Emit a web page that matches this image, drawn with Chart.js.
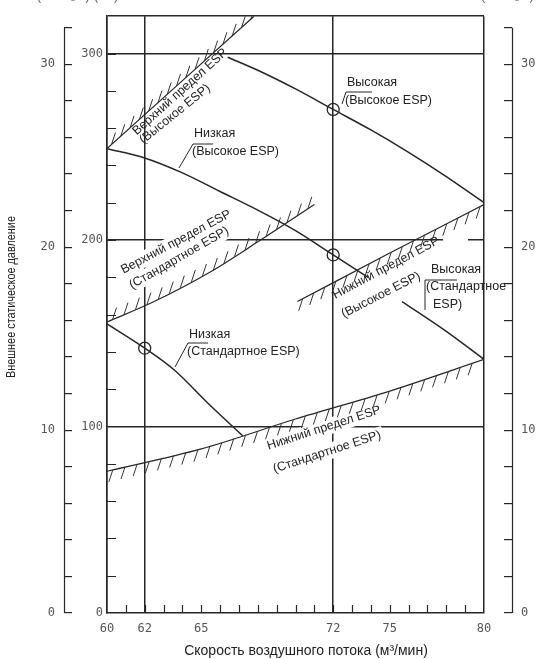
<!DOCTYPE html>
<html>
<head>
<meta charset="utf-8">
<script src="https://cdn.jsdelivr.net/npm/chart.js@4.4.0/dist/chart.umd.min.js"></script>
<style>
  html, body { margin: 0; padding: 0; background: #fff; }
</style>
</head>
<body>
<canvas id="chart" width="539" height="659"></canvas>
<script>
// airflow (m3/min) vs external static pressure (Pa)
const highHighX = [66.4, 68, 70, 72, 74, 76, 78, 80];
const highHighY = [298, 291, 281, 270, 259, 247, 234, 220];

const lowHighX = [60, 62, 64, 66, 68, 70, 72, 73.85];
const lowHighY = [249, 244, 236, 226, 216, 205, 192, 180];

const lowStdX = [60, 62, 63.6, 65.3, 67.2];
const lowStdY = [155, 142, 130, 113, 95];

const highStdX = [75.65, 78, 80];
const highStdY = [167, 151, 136];

// ESP limit lines
const upperHighX = [60, 67.8];
const upperHighY = [249, 320];
const upperStdX = [60, 62.5, 65.5, 68, 71];
const upperStdY = [156, 167, 183, 199, 219];
const lowerHighX = [70.1, 75, 80];
const lowerHighY = [167, 193, 219];
const lowerStdX = [60, 65, 70, 75, 80];
const lowerStdY = [76, 88, 104, 119, 136];

// rated points
const markX = [62, 72, 72];
const markY = [142, 270, 192];

// axes
const xLabels = [60, 62, 65, 72, 75, 80];
const xGridLines = [60, 62, 72, 80];
const paLabels = [0, 100, 200, 300];
const paGridLines = [100, 200, 300, 320];
const mmLabels = [0, 10, 20, 30];
const PA_PER_MM = 9.80665;

const LINE = '#262626';
const TEXT = '#222';
const TICK_TEXT = '#555';
const LABEL_FONT = '12.5px "Liberation Sans", Arial, sans-serif';

const pts = (xs, ys) => xs.map((x, i) => ({ x: x, y: ys[i] }));

const curve = (data, extra) => Object.assign({
  data: data,
  showLine: true,
  borderColor: LINE,
  borderWidth: 1.5,
  pointRadius: 0,
  cubicInterpolationMode: 'monotone',
  fill: false
}, extra || {});

// text placed on the chart (pixels)
const rotLabels = [
  { text: 'Верхний предел ESP', x: 180, y: 92, angle: -42 },
  { text: '(Высокое ESP)', x: 175, y: 114, angle: -39 },
  { text: 'Верхний предел ESP', x: 176, y: 242, angle: -28, bg: true },
  { text: '(Стандартное ESP)', x: 179, y: 258, angle: -30, bg: true },
  { text: 'Нижний предел ESP', x: 386, y: 268, angle: -28 },
  { text: '(Высокое ESP)', x: 381, y: 295, angle: -27 },
  { text: 'Нижний предел ESP', x: 324, y: 428, angle: -18, bg: true },
  { text: '(Стандартное ESP)', x: 327, y: 452, angle: -18, bg: true }
];
const flatLabels = [
  { text: 'Высокая', x: 347, y: 83 },
  { text: '(Высокое ESP)', x: 345, y: 101 },
  { text: 'Низкая', x: 194, y: 134 },
  { text: '(Высокое ESP)', x: 192, y: 152 },
  { text: 'Низкая', x: 189, y: 335 },
  { text: '(Стандартное ESP)', x: 187, y: 352 },
  { text: 'Высокая', x: 431, y: 270 },
  { text: '(Стандартное', x: 426, y: 287 },
  { text: 'ESP)', x: 433, y: 305 }
];
const leaders = [
  [[346, 92], [372, 92]], [[346, 92], [342, 104]],
  [[193, 144], [213, 144]], [[193, 144], [179, 168]],
  [[188, 343], [208, 343]], [[188, 343], [175, 367]],
  [[425, 280], [457, 280]], [[425, 280], [425, 310]]
];
// unit captions, cut off by the top edge in the original
const unitTexts = [
  { text: '(мм H₂O)', x: 37 },
  { text: '(Па)', x: 94 },
  { text: '(мм H₂O)', x: 481 }
];
// small white gap in the 200 Pa line, right side
const gridGaps = [[443, 230, 25, 12]];

// white boxes behind some labels (cuts the grid lines like the original)
const labelBoxes = {
  id: 'labelBoxes',
  beforeDatasetsDraw(chart) {
    const ctx = chart.ctx;
    ctx.save();
    ctx.font = LABEL_FONT;
    ctx.fillStyle = '#fff';
    rotLabels.filter(l => l.bg).forEach(l => {
      const w = ctx.measureText(l.text).width;
      ctx.save();
      ctx.translate(l.x, l.y);
      ctx.rotate(l.angle * Math.PI / 180);
      ctx.fillRect(-w / 2 - 3, -8, w + 6, 16);
      ctx.restore();
    });
    gridGaps.forEach(g => ctx.fillRect(g[0], g[1], g[2], g[3]));
    ctx.restore();
  }
};

// hatch marks on the ESP limit lines
const hatch = {
  id: 'hatch',
  afterDatasetsDraw(chart) {
    const ctx = chart.ctx;
    const area = chart.chartArea;
    ctx.save();
    ctx.beginPath();
    ctx.rect(area.left, area.top, area.right - area.left, area.bottom - area.top);
    ctx.clip();
    ctx.strokeStyle = '#333';
    ctx.lineWidth = 1;
    chart.data.datasets.forEach((ds, i) => {
      if (!ds.hatch) return;
      const p = chart.getDatasetMeta(i).data.map(e => [e.x, e.y]);
      const dir = ds.hatch === 'up' ? -1 : 1;
      const step = 12.5;
      let carry = 6;
      ctx.beginPath();
      for (let k = 0; k < p.length - 1; k++) {
        const [x0, y0] = p[k];
        const [x1, y1] = p[k + 1];
        const len = Math.hypot(x1 - x0, y1 - y0);
        let d = carry;
        while (d <= len) {
          const t = d / len;
          const hx = x0 + (x1 - x0) * t;
          const hy = y0 + (y1 - y0) * t;
          ctx.moveTo(hx, hy);
          ctx.lineTo(hx - dir * 4, hy + dir * 12);
          d += step;
        }
        carry = d - len;
      }
      ctx.stroke();
    });
    ctx.restore();
  }
};

// inward ticks, outer mmH2O brackets, titles and labels
const decor = {
  id: 'decor',
  afterDraw(chart) {
    const ctx = chart.ctx;
    const area = chart.chartArea;
    const sx = chart.scales.x;
    const sy = chart.scales.y;
    ctx.save();
    ctx.strokeStyle = LINE;
    ctx.lineWidth = 1.2;
    ctx.beginPath();
    sy.ticks.forEach(t => {
      if (t.value <= 0 || t.value >= 320) return;
      const y = Math.round(sy.getPixelForValue(t.value)) + 0.5;
      ctx.moveTo(area.left, y);
      ctx.lineTo(area.left + 9, y);
    });
    sx.ticks.forEach(t => {
      if (t.value <= 60 || t.value >= 80) return;
      const x = Math.round(sx.getPixelForValue(t.value)) + 0.5;
      ctx.moveTo(x, area.bottom);
      ctx.lineTo(x, area.bottom - 8);
    });
    // brackets of the mmH2O axes
    const mL = chart.scales.mmL;
    const mR = chart.scales.mmR;
    const xl = Math.round(mL.right - 8) + 0.5;
    const xr = Math.round(mR.left + 8) + 0.5;
    ctx.moveTo(xl, mL.getPixelForValue(0));
    ctx.lineTo(xl, mL.getPixelForValue(32));
    ctx.moveTo(xr, mR.getPixelForValue(0));
    ctx.lineTo(xr, mR.getPixelForValue(32));
    ctx.stroke();

    // leader lines
    ctx.lineWidth = 1;
    ctx.beginPath();
    leaders.forEach(l => {
      ctx.moveTo(l[0][0], l[0][1]);
      ctx.lineTo(l[1][0], l[1][1]);
    });
    ctx.stroke();

    ctx.fillStyle = TEXT;
    ctx.font = LABEL_FONT;
    ctx.textAlign = 'center';
    ctx.textBaseline = 'middle';
    rotLabels.forEach(l => {
      ctx.save();
      ctx.translate(l.x, l.y);
      ctx.rotate(l.angle * Math.PI / 180);
      ctx.fillText(l.text, 0, 0);
      ctx.restore();
    });
    ctx.textAlign = 'left';
    flatLabels.forEach(l => ctx.fillText(l.text, l.x, l.y));

    // units (only their lower edge shows)
    ctx.fillStyle = '#666';
    ctx.textBaseline = 'alphabetic';
    unitTexts.forEach(u => ctx.fillText(u.text, u.x, 0));

    // axis titles
    ctx.fillStyle = TEXT;
    ctx.textBaseline = 'middle';
    ctx.font = '14px "Liberation Sans", Arial, sans-serif';
    ctx.textAlign = 'center';
    ctx.fillText('Скорость воздушного потока (м³/мин)', 306, 651);
    ctx.save();
    ctx.translate(12, 297);
    ctx.rotate(-Math.PI / 2);
    ctx.scale(0.87, 1);
    ctx.font = '12.5px "Liberation Sans", Arial, sans-serif';
    ctx.fillText('Внешнее статическое давление', 0, 0);
    ctx.restore();
    ctx.restore();
  }
};

const tickFont = { family: '"DejaVu Sans Mono", monospace', size: 12 };

const mmScale = (position, extra) => Object.assign({
  type: 'linear',
  position: position,
  weight: 2,
  min: 0,
  max: 320 / PA_PER_MM,
  afterBuildTicks: s => {
    s.ticks = Array.from({ length: 17 }, (_, i) => ({ value: i * 2 }));
  },
  ticks: {
    padding: 9,
    color: TICK_TEXT,
    font: tickFont,
    callback: v => mmLabels.includes(v) ? String(v) : ''
  },
  grid: {
    drawOnChartArea: false,
    drawTicks: true,
    tickLength: 8,
    color: LINE,
    lineWidth: 1.2
  },
  border: { display: false }
}, extra);

new Chart(document.getElementById('chart'), {
  type: 'scatter',
  data: {
    datasets: [
      curve(pts(highHighX, highHighY)),
      curve(pts(lowHighX, lowHighY)),
      curve(pts(lowStdX, lowStdY)),
      curve(pts(highStdX, highStdY)),
      curve(pts(upperHighX, upperHighY), { borderWidth: 1.2, hatch: 'up' }),
      curve(pts(upperStdX, upperStdY), { borderWidth: 1.2, hatch: 'up' }),
      curve(pts(lowerHighX, lowerHighY), { borderWidth: 1.2, hatch: 'down' }),
      curve(pts(lowerStdX, lowerStdY), { borderWidth: 1.2, hatch: 'down' }),
      {
        data: pts(markX, markY),
        showLine: false,
        pointStyle: 'circle',
        pointRadius: 6,
        pointBorderWidth: 1.3,
        pointBorderColor: LINE,
        pointBackgroundColor: 'rgba(0,0,0,0)'
      }
    ]
  },
  options: {
    responsive: false,
    animation: false,
    devicePixelRatio: 1,
    layout: { padding: { top: 10, left: 0, right: 0, bottom: 0 } },
    plugins: { legend: { display: false }, tooltip: { enabled: false } },
    scales: {
      x: {
        type: 'linear',
        position: 'bottom',
        min: 60,
        max: 80,
        afterBuildTicks: s => {
          s.ticks = Array.from({ length: 21 }, (_, i) => ({ value: 60 + i }));
        },
        afterFit: s => { s.height = 46; },
        ticks: {
          autoSkip: false,
          maxRotation: 0,
          padding: 9,
          color: TICK_TEXT,
          font: tickFont,
          callback: v => xLabels.includes(v) ? String(v) : ''
        },
        grid: {
          drawTicks: false,
          lineWidth: 1.5,
          color: c => xGridLines.includes(c.tick.value) ? LINE : 'rgba(0,0,0,0)'
        },
        border: { display: true, color: LINE, width: 1.5 }
      },
      y: {
        type: 'linear',
        position: 'left',
        weight: 1,
        min: 0,
        max: 320,
        afterBuildTicks: s => {
          s.ticks = Array.from({ length: 17 }, (_, i) => ({ value: i * 20 }));
        },
        afterFit: s => { s.width = 35; },
        ticks: {
          padding: 4,
          color: TICK_TEXT,
          font: tickFont,
          callback: v => paLabels.includes(v) ? String(v) : ''
        },
        grid: {
          drawTicks: false,
          lineWidth: 1.5,
          color: c => paGridLines.includes(c.tick.value) ? LINE : 'rgba(0,0,0,0)'
        },
        border: { display: true, color: LINE, width: 1.5 }
      },
      mmL: mmScale('left', { afterFit: s => { s.width = 72; } }),
      spacer: {
        type: 'linear',
        position: 'right',
        weight: 1,
        min: 0,
        max: 320,
        afterFit: s => { s.width = 20; },
        ticks: { display: false },
        grid: { display: false },
        border: { display: false }
      },
      mmR: mmScale('right', { afterFit: s => { s.width = 35; } })
    }
  },
  plugins: [labelBoxes, hatch, decor]
});
</script>
</body>
</html>
